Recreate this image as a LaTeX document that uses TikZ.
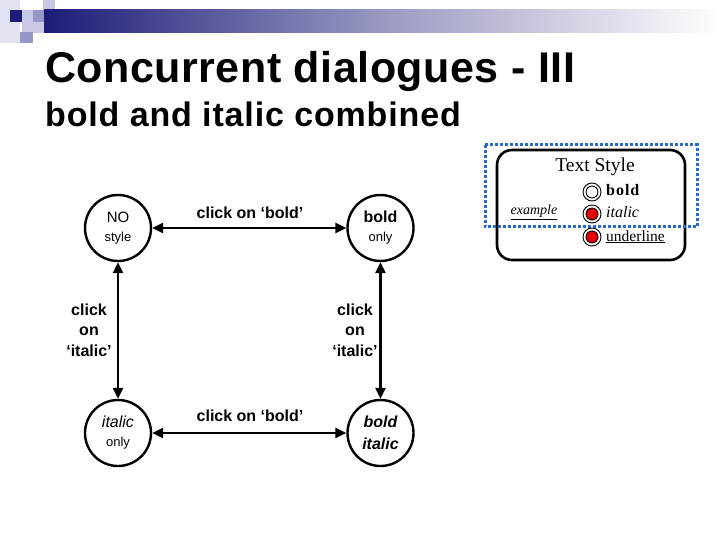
\documentclass[tikz,border=0pt]{standalone}
\usepackage{fontspec}
\setmainfont{Liberation Sans}
\newfontfamily\serifF{Liberation Serif}
\usetikzlibrary{arrows.meta}
\definecolor{navy}{RGB}{28,28,120}
\definecolor{lav1}{RGB}{226,226,242}
\definecolor{lav2}{RGB}{200,200,230}
\definecolor{lav3}{RGB}{150,150,200}
\definecolor{dotblue}{RGB}{40,105,205}
\definecolor{radred}{RGB}{230,0,0}
\tikzset{
  state/.style={circle,draw,line width=2.4pt,minimum size=66pt,inner sep=0pt,align=center},
  conn/.style={line width=2.4pt,{Triangle[length=11pt,width=10pt]}-{Triangle[length=11pt,width=10pt]}},
  lbl/.style={font=\fontsize{16}{20.5}\selectfont\bfseries,align=center,inner sep=0pt},
  radio/.style={circle,draw,line width=0.9pt,minimum size=18pt,inner sep=0pt},
  radioin/.style={circle,draw,line width=0.9pt,minimum size=12pt,inner sep=0pt},
}
\begin{document}
\begin{tikzpicture}[x=1pt,y=-1pt]
\useasboundingbox (0,0) rectangle (720,540);
% header decoration
\fill[lav1] (0,0) rectangle (20,43);
\fill[lav2] (22,10) rectangle (43,22);
\fill[lav2] (43,0) rectangle (55,10);
\fill[lav3] (33,10) rectangle (55,22);
\fill[lav2] (22,22) rectangle (44,33);
\fill[lav3] (20,32) rectangle (33,43);
\fill[navy] (10,10) rectangle (22,22);
\shade[left color=navy,right color=white,middle color=navy!45!white] (44,10) rectangle (720,33);
% titles
\node[anchor=base west,inner sep=0pt,font=\fontsize{43}{50}\selectfont\bfseries\addfontfeature{LetterSpace=1.2}] (title) at (45,83) {Concurrent dialogues - III};
\node[anchor=base west,inner sep=0pt,font=\fontsize{34}{40}\selectfont\bfseries\addfontfeature{LetterSpace=2.5}] (subtitle) at (45,127) {bold and italic combined};
% states
\node[state,font=\fontsize{15}{16}\selectfont] (n00) at (118,228) {NO\\[3pt]{\fontsize{13}{14}\selectfont style}};
\node[state,font=\fontsize{16}{16}\selectfont] (n10) at (380.5,228) {\textbf{bold}\\[3pt]{\fontsize{13}{14}\selectfont only}};
\node[state,font=\fontsize{16}{16}\selectfont] (n01) at (118,433) {\textit{italic}\\[3pt]{\fontsize{13}{14}\selectfont only}};
\node[state,font=\fontsize{16}{22}\selectfont\bfseries\itshape] (n11) at (380.5,433) {bold\\italic};
% connectors
\draw[conn] (n00) -- (n10);
\draw[conn] (n01) -- (n11);
\draw[conn] (n00) -- (n01);
\draw[conn] (n10) -- (n11);
% labels
\node[lbl] (ltop) at (250,213) {click on ‘bold’};
\node[lbl] (lbot) at (250,416) {click on ‘bold’};
\node[lbl] (lleft) at (89,330) {click\\on\\‘italic’};
\node[lbl] (lright) at (355,330) {click\\on\\‘italic’};
% legend
\draw[line width=2.6pt,rounded corners=15pt] (497,150) rectangle (685,260);
\node[font=\serifF\fontsize{19.5}{22}\selectfont,inner sep=0pt] (ts) at (595,167) {Text Style};
\node[font=\serifF\fontsize{14}{16}\selectfont\itshape,inner sep=0pt] (ex) at (534,212) {\underline{example}};
\foreach \y/\c/\nm in {192/white/r1,214/radred/r2,237/radred/r3}{
  \node[radio] (\nm) at (592,\y) {};
  \node[radioin,fill=\c] (\nm i) at (592,\y) {};
}
\node[anchor=base west,inner sep=0pt,font=\serifF\fontsize{16}{18}\selectfont\bfseries\addfontfeature{LetterSpace=6}] (tb) at (606,196) {bold};
\node[anchor=base west,inner sep=0pt,font=\serifF\fontsize{16}{18}\selectfont\itshape] (ti) at (606,218) {italic};
\node[anchor=base west,inner sep=0pt,font=\serifF\fontsize{15.5}{18}\selectfont] (tu) at (606,241) {\underline{underline}};
\draw[dotblue,line width=3pt,dash pattern=on 3pt off 2pt] (485,145) rectangle (697,227);
\end{tikzpicture}
\end{document}
